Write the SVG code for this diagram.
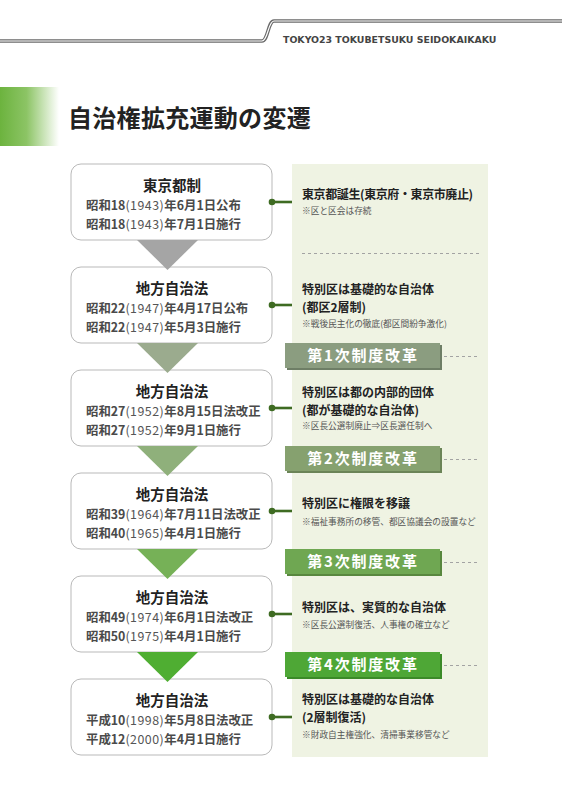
<svg xmlns="http://www.w3.org/2000/svg" width="562" height="795" viewBox="0 0 562 795">
<defs>
<linearGradient id="tg" x1="0" y1="0" x2="1" y2="0">
<stop offset="0" stop-color="#6cb33e"/>
<stop offset="0.45" stop-color="#8cc465"/>
<stop offset="1" stop-color="#ffffff"/>
</linearGradient>
<marker id="dot" viewBox="0 0 8 8" refX="4" refY="4" markerWidth="8" markerHeight="8" markerUnits="userSpaceOnUse">
<circle cx="4" cy="4" r="3.3" fill="#3e6b22"/>
</marker>
</defs>
<style>
.jp{font-family:"Noto Sans CJK JP","Noto Sans CJK SC",sans-serif}
.box{fill:#fff;stroke:#b9b9b9;stroke-width:1}
.bt{font-size:14.5px;font-weight:700;fill:#222;text-anchor:middle}
.dl{font-size:12.4px;font-weight:700;fill:#4a4a4a}
.dl .p{font-weight:400;fill:#555;letter-spacing:0.5px}
.mt{font-size:12px;font-weight:700;fill:#222}
.nt{font-size:8.7px;fill:#555}
.con{stroke:#3e6b22;stroke-width:2.6;fill:none;marker-start:url(#dot)}
.dash{stroke:#a3a3a3;stroke-width:1;stroke-dasharray:3 3;fill:none}
.lt{font-size:15px;font-weight:700;fill:#fff;text-anchor:middle;letter-spacing:1.8px}
</style>
<rect width="562" height="795" fill="#fff"/>
<!-- header -->
<g id="header">
<path d="M0 41 H262 C268 41 268 21 274 21 H562" fill="none" stroke="#6a6a6a" stroke-width="3.6"/>
<path d="M0 41 H262 C268 41 268 21 274 21 H562" fill="none" stroke="#fff" stroke-width="1.2"/>
<text x="283" y="42.5" font-family="'DejaVu Sans',sans-serif" font-size="9.4" font-weight="700" fill="#444">TOKYO23 TOKUBETSUKU SEIDOKAIKAKU</text>
</g>
<g id="title">
<rect x="0" y="87" width="59" height="59" fill="url(#tg)"/>
<text class="jp" x="68" y="127" font-size="24" font-weight="700" fill="#222" letter-spacing="0.3">自治権拡充運動の変遷</text>
</g>
<rect id="panel" x="292" y="164" width="196" height="593" fill="#eff3e3"/>
<!-- nodes -->
<g id="n1" class="jp">
<rect class="box" x="71" y="164" width="201" height="76" rx="10"/>
<text class="bt" x="172" y="191">東京都制</text>
<text class="dl" x="86" y="210">昭和18<tspan class="p">(1943)</tspan>年6月1日公布</text>
<text class="dl" x="86" y="229">昭和18<tspan class="p">(1943)</tspan>年7月1日施行</text>
</g>
<g id="n2" class="jp">
<rect class="box" x="71" y="267" width="201" height="76" rx="10"/>
<text class="bt" x="172" y="294">地方自治法</text>
<text class="dl" x="86" y="313">昭和22<tspan class="p">(1947)</tspan>年4月17日公布</text>
<text class="dl" x="86" y="332">昭和22<tspan class="p">(1947)</tspan>年5月3日施行</text>
</g>
<g id="n3" class="jp">
<rect class="box" x="71" y="370" width="201" height="76" rx="10"/>
<text class="bt" x="172" y="397">地方自治法</text>
<text class="dl" x="86" y="416">昭和27<tspan class="p">(1952)</tspan>年8月15日法改正</text>
<text class="dl" x="86" y="435">昭和27<tspan class="p">(1952)</tspan>年9月1日施行</text>
</g>
<g id="n4" class="jp">
<rect class="box" x="71" y="473" width="201" height="76" rx="10"/>
<text class="bt" x="172" y="500">地方自治法</text>
<text class="dl" x="86" y="519">昭和39<tspan class="p">(1964)</tspan>年7月11日法改正</text>
<text class="dl" x="86" y="538">昭和40<tspan class="p">(1965)</tspan>年4月1日施行</text>
</g>
<g id="n5" class="jp">
<rect class="box" x="71" y="576" width="201" height="76" rx="10"/>
<text class="bt" x="172" y="603">地方自治法</text>
<text class="dl" x="86" y="622">昭和49<tspan class="p">(1974)</tspan>年6月1日法改正</text>
<text class="dl" x="86" y="641">昭和50<tspan class="p">(1975)</tspan>年4月1日施行</text>
</g>
<g id="n6" class="jp">
<rect class="box" x="71" y="679" width="201" height="76" rx="10"/>
<text class="bt" x="172" y="706">地方自治法</text>
<text class="dl" x="86" y="725">平成10<tspan class="p">(1998)</tspan>年5月8日法改正</text>
<text class="dl" x="86" y="744">平成12<tspan class="p">(2000)</tspan>年4月1日施行</text>
</g>
<!-- connectors -->
<g id="connectors">
<polygon points="137,240 198,240 167.5,270" fill="#a5a5a5"/>
<polygon points="137,343 198,343 167.5,373" fill="#9bab8e"/>
<polygon points="137,446 198,446 167.5,476" fill="#8fb07b"/>
<polygon points="137,549 198,549 167.5,579" fill="#76b157"/>
<polygon points="137,652 198,652 167.5,682" fill="#4fae32"/>
<path class="con" d="M272 202 H292"/>
<path class="con" d="M272 305 H292"/>
<path class="con" d="M272 408 H292"/>
<path class="con" d="M272 511 H292"/>
<path class="con" d="M272 614 H292"/>
<path class="con" d="M272 717 H292"/>
<path class="dash" d="M302 253.5 H480"/>
<path class="dash" d="M444 356.5 H480"/>
<path class="dash" d="M444 459.5 H480"/>
<path class="dash" d="M444 562.5 H480"/>
<path class="dash" d="M444 665.5 H480"/>
</g>
<!-- descriptions -->
<g id="d1" class="jp">
<text class="mt" x="302" y="199" letter-spacing="-0.4">東京都誕生(東京府・東京市廃止)</text>
<text class="nt" x="302" y="214">※区と区会は存続</text>
</g>
<g id="d2" class="jp">
<text class="mt" x="302" y="294">特別区は基礎的な自治体</text>
<text class="mt" x="302" y="312">(都区2層制)</text>
<text class="nt" x="302" y="327">※戦後民主化の徹底(都区間紛争激化)</text>
</g>
<g id="d3" class="jp">
<text class="mt" x="302" y="397">特別区は都の内部的団体</text>
<text class="mt" x="302" y="415">(都が基礎的な自治体)</text>
<text class="nt" x="302" y="429">※区長公選制廃止⇒区長選任制へ</text>
</g>
<g id="d4" class="jp">
<text class="mt" x="302" y="508">特別区に権限を移譲</text>
<text class="nt" x="302" y="525">※福祉事務所の移管、都区協議会の設置など</text>
</g>
<g id="d5" class="jp">
<text class="mt" x="302" y="612">特別区は、実質的な自治体</text>
<text class="nt" x="302" y="628">※区長公選制復活、人事権の確立など</text>
</g>
<g id="d6" class="jp">
<text class="mt" x="302" y="704">特別区は基礎的な自治体</text>
<text class="mt" x="302" y="722">(2層制復活)</text>
<text class="nt" x="302" y="738">※財政自主権強化、清掃事業移管など</text>
</g>
<!-- reform labels -->
<g id="r1" class="jp">
<rect x="287" y="345" width="155" height="25" fill="#6e7e66"/>
<rect x="285" y="343" width="155" height="25" fill="#8b9d80"/>
<text class="lt" x="363" y="361">第1次制度改革</text>
</g>
<g id="r2" class="jp">
<rect x="287" y="448" width="155" height="25" fill="#6b8457"/>
<rect x="285" y="446" width="155" height="25" fill="#86a16f"/>
<text class="lt" x="363" y="464">第2次制度改革</text>
</g>
<g id="r3" class="jp">
<rect x="287" y="551" width="155" height="25" fill="#58873e"/>
<rect x="285" y="549" width="155" height="25" fill="#6fa752"/>
<text class="lt" x="363" y="567">第3次制度改革</text>
</g>
<g id="r4" class="jp">
<rect x="287" y="654" width="155" height="25" fill="#3b8a28"/>
<rect x="285" y="652" width="155" height="25" fill="#4ea736"/>
<text class="lt" x="363" y="670">第4次制度改革</text>
</g>
</svg>
